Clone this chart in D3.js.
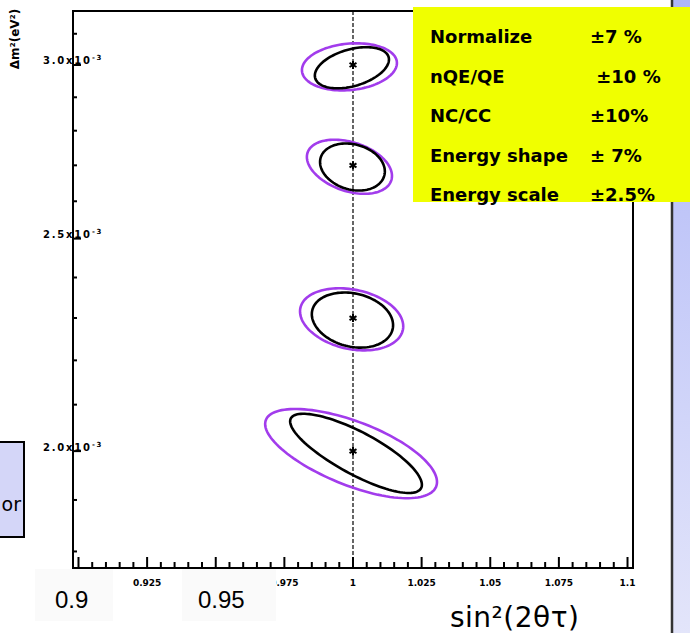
<!DOCTYPE html>
<html><head><meta charset="utf-8">
<script src="https://cdn.jsdelivr.net/npm/d3@7"></script>
<style>html,body{margin:0;padding:0;background:#fff;}svg{display:block;}</style>
</head><body>
<script>
// ---- data ----
// small axis labels visible in the picture (0.9 and 0.95 are covered by the big overlay labels)
const xTickValues = [0.925, 0.975, 1, 1.025, 1.05, 1.075, 1.1];
const xTickLabels = ["0.925", "0.975", "1", "1.025", "1.05", "1.075", "1.1"];
const yTickValues = [2.0e-3, 2.5e-3, 3.0e-3];
const yTickMant = ["2.0", "2.5", "3.0"];
const overlayLabels = ["0.9", "0.95"];
const pointSin2 = [1, 1, 1, 1];
const pointDm2 = [3.0e-3, 2.7e-3, 2.3e-3, 2.0e-3];
// inner (black) contours: center, half-extent, correlation
const innerCx = [0.9996, 0.9998, 0.9998, 1.0011];
const innerCy = [2.992e-3, 2.696e-3, 2.296e-3, 1.997e-3];
const innerSx = [0.0135, 0.0118, 0.0148, 0.024];
const innerSy = [0.0646e-3, 0.0666e-3, 0.0664e-3, 0.083e-3];
const innerRho = [0.39, -0.2, -0.2, -0.8];
// outer (violet) contours
const outerCx = [0.9987, 0.9987, 0.9995, 0.9993];
const outerCy = [2.995e-3, 2.697e-3, 2.298e-3, 1.997e-3];
const outerSx = [0.0173, 0.0155, 0.0188, 0.0313];
const outerSy = [0.0741e-3, 0.0766e-3, 0.0749e-3, 0.0935e-3];
const outerRho = [0.15, -0.35, -0.24, -0.65];
const systNames = ["Normalize", "nQE/QE", "NC/CC", "Energy shape", "Energy scale"];
const systValues = ["±7 %", " ±10 %", "±10%", "± 7%", "±2.5%"];

const W = 690, H = 633;
const svg = d3.select("body").append("svg").attr("width", W).attr("height", H);

const L = 73, R = 633, T = 11, B = 568;
const x = d3.scaleLinear().domain([0.898, 1.102]).range([L, R]);
const y = d3.scaleLog().domain([1.769e-3, 3.175e-3]).range([B, T]);

// right side panel
const defs = svg.append("defs");
const g1 = defs.append("linearGradient").attr("id", "pan").attr("x1", 0).attr("y1", 0).attr("x2", 0).attr("y2", 1);
g1.append("stop").attr("offset", 0).attr("stop-color", "#aeb6f7");
g1.append("stop").attr("offset", 1).attr("stop-color", "#e3e5fa");
svg.append("rect").attr("x", 673).attr("y", 0).attr("width", 17).attr("height", H).attr("fill", "url(#pan)");
svg.append("line").attr("x1", 672).attr("x2", 672).attr("y1", 0).attr("y2", H).attr("stroke", "#333").attr("stroke-width", 2.5);

// left partial box
svg.append("rect").attr("x", -3).attr("y", 442).attr("width", 27).attr("height", 95)
  .attr("fill", "#d4d6f8").attr("stroke", "#000").attr("stroke-width", 2);
svg.append("text").attr("x", 21).attr("y", 511).attr("text-anchor", "end")
  .attr("font-family", "DejaVu Sans").attr("font-size", 19).text("or");

// frame
const frame = svg.append("g").attr("stroke", "#000").attr("stroke-width", 2).attr("fill", "none");
frame.append("rect").attr("x", L).attr("y", T).attr("width", R - L).attr("height", B - T);

// x ticks
const xMinor = d3.range(0, 41).map(i => +(0.9 + i * 0.005).toFixed(4));
svg.append("g").selectAll("line").data(xMinor).join("line")
  .attr("x1", d => x(d)).attr("x2", d => x(d))
  .attr("y1", B).attr("y2", d => (Math.round(d * 1000) % 25 === 0) ? B - 11 : B - 6)
  .attr("stroke", "#000").attr("stroke-width", 2);
svg.append("g").selectAll("text").data(xTickValues).join("text")
  .attr("x", d => x(d)).attr("y", 586).attr("text-anchor", "middle")
  .attr("font-family", "DejaVu Sans").attr("font-weight", "bold").attr("font-size", 9)
  .text((d, i) => xTickLabels[i]);

// y ticks
const yMinor = d3.range(18, 32).map(i => i * 1e-4);
svg.append("g").selectAll("line").data(yMinor).join("line")
  .attr("x1", L).attr("x2", (d, i) => (Math.round(d * 1e4) % 5 === 0) ? L + 8 : L + 4)
  .attr("y1", d => y(d)).attr("y2", d => y(d))
  .attr("stroke", "#000").attr("stroke-width", 2);
const yl = svg.append("g").selectAll("text").data(yTickValues).join("text")
  .attr("x", 43).attr("y", d => y(d) - 0.5)
  .attr("font-family", "DejaVu Sans").attr("font-weight", "bold").attr("font-size", 10)
  .attr("letter-spacing", 1.8);
yl.append("tspan").text((d, i) => yTickMant[i] + "x10");
yl.append("tspan").attr("dy", -4).attr("font-size", 7).text("-3");

// axis titles
svg.append("text").attr("transform", "translate(19,39) rotate(-90)").attr("text-anchor", "middle")
  .attr("font-family", "DejaVu Sans").attr("font-weight", "bold").attr("font-size", 12)
  .text("Δm²(eV²)");

// dashed line at x = 1
svg.append("line").attr("x1", x(1)).attr("x2", x(1)).attr("y1", T).attr("y2", B)
  .attr("stroke", "#000").attr("stroke-width", 1.2).attr("stroke-dasharray", "4,2");

// contours
function contour(cx, cy, sx, sy, rho) {
  const d = Math.acos(rho);
  return d3.range(0, 121).map(k => {
    const t = k / 120 * 2 * Math.PI;
    return [x(cx + sx * Math.cos(t)), y(cy + sy * Math.cos(t + d))];
  });
}
const line = d3.line();
svg.append("g").selectAll("path").data(outerCx).join("path")
  .attr("d", (d, i) => line(contour(outerCx[i], outerCy[i], outerSx[i], outerSy[i], outerRho[i])) + "Z")
  .attr("fill", "none").attr("stroke", "#a23cec").attr("stroke-width", 2.6);
svg.append("g").selectAll("path").data(innerCx).join("path")
  .attr("d", (d, i) => line(contour(innerCx[i], innerCy[i], innerSx[i], innerSy[i], innerRho[i])) + "Z")
  .attr("fill", "none").attr("stroke", "#000").attr("stroke-width", 2.6);

// best-fit markers
svg.append("g").selectAll("path").data(pointDm2).join("path")
  .attr("transform", (d, i) => `translate(${x(pointSin2[i])},${y(d)})`)
  .attr("d", d3.symbol().type(d3.symbolAsterisk).size(45))
  .attr("stroke", "#000").attr("stroke-width", 2).attr("fill", "none");

// overlay label boxes
const boxX = [35, 182], boxW = [78, 94];
overlayLabels.forEach((t, i) => {
  svg.append("rect").attr("x", boxX[i]).attr("y", 569).attr("width", boxW[i]).attr("height", 52).attr("fill", "#fafafa");
  svg.append("text").attr("x", i === 0 ? 55 : 198).attr("y", 608)
    .attr("font-family", "Liberation Sans").attr("font-size", 24).text(t);
});

// x title
svg.append("text").attr("x", 450).attr("y", 627)
  .attr("font-family", "DejaVu Sans").attr("font-size", 28).attr("letter-spacing", 0.5)
  .text("sin²(2θτ)");

// systematics box
svg.append("rect").attr("x", 413).attr("y", 7).attr("width", 277).attr("height", 195).attr("fill", "#f0ff00");
const st = svg.append("g").attr("font-family", "DejaVu Sans").attr("font-weight", "bold").attr("font-size", 18).attr("fill", "#000");
st.selectAll(".n").data(systNames).join("text").attr("class", "n")
  .attr("x", 430).attr("y", (d, i) => 43 + i * 39.5).text(d => d);
st.selectAll(".v").data(systValues).join("text").attr("class", "v")
  .attr("x", 590).attr("y", (d, i) => 43 + i * 39.5).style("white-space", "pre").text(d => d);
</script>
</body></html>
